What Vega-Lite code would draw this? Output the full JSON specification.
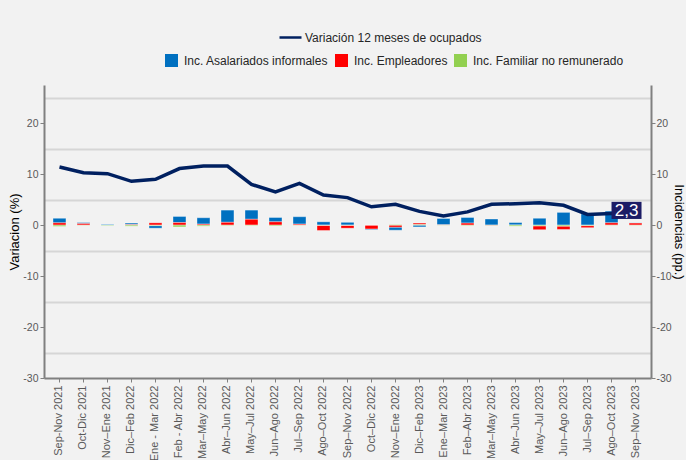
{
  "$schema": "https://vega.github.io/schema/vega-lite/v6.json",
  "autosize": {"type": "none"},
  "padding": {"left": 44, "top": 85, "right": 35, "bottom": 82},
  "width": 607,
  "height": 293,
  "background": "#f2f2f2",
  "config": {
    "font": "Liberation Sans",
    "view": {"stroke": null},
    "locale": {"number": {"decimal": ",", "thousands": ".", "grouping": [3], "currency": ["", ""], "minus": "-"}}
  },
  "datasets": {
    "barras": [
      {"p": "Sep-Nov 2021", "s": "Inc. Asalariados informales", "v": 0.9},
      {"p": "Sep-Nov 2021", "s": "Inc. Empleadores", "v": 0.45},
      {"p": "Sep-Nov 2021", "s": "Inc. Familiar no remunerado", "v": -0.25},
      {"p": "Oct-Dic 2021", "s": "Inc. Asalariados informales", "v": 0.2},
      {"p": "Oct-Dic 2021", "s": "Inc. Empleadores", "v": 0.3},
      {"p": "Oct-Dic 2021", "s": "Inc. Familiar no remunerado", "v": -0.05},
      {"p": "Nov–Ene 2021", "s": "Inc. Asalariados informales", "v": 0.15},
      {"p": "Nov–Ene 2021", "s": "Inc. Empleadores", "v": 0.0},
      {"p": "Nov–Ene 2021", "s": "Inc. Familiar no remunerado", "v": -0.1},
      {"p": "Dic–Feb 2022", "s": "Inc. Asalariados informales", "v": 0.3},
      {"p": "Dic–Feb 2022", "s": "Inc. Empleadores", "v": 0.1},
      {"p": "Dic–Feb 2022", "s": "Inc. Familiar no remunerado", "v": -0.2},
      {"p": "Ene - Mar 2022", "s": "Inc. Asalariados informales", "v": -0.5},
      {"p": "Ene - Mar 2022", "s": "Inc. Empleadores", "v": 0.45},
      {"p": "Ene - Mar 2022", "s": "Inc. Familiar no remunerado", "v": -0.1},
      {"p": "Feb - Abr 2022", "s": "Inc. Asalariados informales", "v": 1.2},
      {"p": "Feb - Abr 2022", "s": "Inc. Empleadores", "v": 0.5},
      {"p": "Feb - Abr 2022", "s": "Inc. Familiar no remunerado", "v": -0.35},
      {"p": "Mar–May 2022", "s": "Inc. Asalariados informales", "v": 1.25},
      {"p": "Mar–May 2022", "s": "Inc. Empleadores", "v": 0.2},
      {"p": "Mar–May 2022", "s": "Inc. Familiar no remunerado", "v": -0.2},
      {"p": "Abr–Jun 2022", "s": "Inc. Asalariados informales", "v": 2.4},
      {"p": "Abr–Jun 2022", "s": "Inc. Empleadores", "v": 0.55},
      {"p": "Abr–Jun 2022", "s": "Inc. Familiar no remunerado", "v": -0.1},
      {"p": "May–Jul 2022", "s": "Inc. Asalariados informales", "v": 1.8},
      {"p": "May–Jul 2022", "s": "Inc. Empleadores", "v": 1.15},
      {"p": "May–Jul 2022", "s": "Inc. Familiar no remunerado", "v": -0.1},
      {"p": "Jun–Ago 2022", "s": "Inc. Asalariados informales", "v": 0.85},
      {"p": "Jun–Ago 2022", "s": "Inc. Empleadores", "v": 0.65},
      {"p": "Jun–Ago 2022", "s": "Inc. Familiar no remunerado", "v": -0.15},
      {"p": "Jul–Sep 2022", "s": "Inc. Asalariados informales", "v": 1.45},
      {"p": "Jul–Sep 2022", "s": "Inc. Empleadores", "v": 0.2},
      {"p": "Jul–Sep 2022", "s": "Inc. Familiar no remunerado", "v": -0.05},
      {"p": "Ago–Oct 2022", "s": "Inc. Asalariados informales", "v": 0.65},
      {"p": "Ago–Oct 2022", "s": "Inc. Empleadores", "v": -1.0},
      {"p": "Ago–Oct 2022", "s": "Inc. Familiar no remunerado", "v": -0.05},
      {"p": "Sep–Nov 2022", "s": "Inc. Asalariados informales", "v": 0.55},
      {"p": "Sep–Nov 2022", "s": "Inc. Empleadores", "v": -0.55},
      {"p": "Sep–Nov 2022", "s": "Inc. Familiar no remunerado", "v": -0.05},
      {"p": "Oct–Dic 2022", "s": "Inc. Asalariados informales", "v": -0.15},
      {"p": "Oct–Dic 2022", "s": "Inc. Empleadores", "v": -0.75},
      {"p": "Oct–Dic 2022", "s": "Inc. Familiar no remunerado", "v": 0.0},
      {"p": "Nov–Ene 2022", "s": "Inc. Asalariados informales", "v": -0.6},
      {"p": "Nov–Ene 2022", "s": "Inc. Empleadores", "v": -0.4},
      {"p": "Nov–Ene 2022", "s": "Inc. Familiar no remunerado", "v": 0.1},
      {"p": "Dic–Feb 2023", "s": "Inc. Asalariados informales", "v": -0.35},
      {"p": "Dic–Feb 2023", "s": "Inc. Empleadores", "v": 0.3},
      {"p": "Dic–Feb 2023", "s": "Inc. Familiar no remunerado", "v": 0.1},
      {"p": "Ene–Mar 2023", "s": "Inc. Asalariados informales", "v": 1.25},
      {"p": "Ene–Mar 2023", "s": "Inc. Empleadores", "v": 0.05},
      {"p": "Ene–Mar 2023", "s": "Inc. Familiar no remunerado", "v": -0.05},
      {"p": "Feb–Abr 2023", "s": "Inc. Asalariados informales", "v": 1.1},
      {"p": "Feb–Abr 2023", "s": "Inc. Empleadores", "v": 0.4},
      {"p": "Feb–Abr 2023", "s": "Inc. Familiar no remunerado", "v": -0.1},
      {"p": "Mar–May 2023", "s": "Inc. Asalariados informales", "v": 1.2},
      {"p": "Mar–May 2023", "s": "Inc. Empleadores", "v": -0.1},
      {"p": "Mar–May 2023", "s": "Inc. Familiar no remunerado", "v": -0.05},
      {"p": "Abr–Jun 2023", "s": "Inc. Asalariados informales", "v": 0.5},
      {"p": "Abr–Jun 2023", "s": "Inc. Empleadores", "v": 0.0},
      {"p": "Abr–Jun 2023", "s": "Inc. Familiar no remunerado", "v": -0.2},
      {"p": "May–Jul 2023", "s": "Inc. Asalariados informales", "v": 1.35},
      {"p": "May–Jul 2023", "s": "Inc. Empleadores", "v": -0.75},
      {"p": "May–Jul 2023", "s": "Inc. Familiar no remunerado", "v": -0.15},
      {"p": "Jun–Ago 2023", "s": "Inc. Asalariados informales", "v": 2.5},
      {"p": "Jun–Ago 2023", "s": "Inc. Empleadores", "v": -0.65},
      {"p": "Jun–Ago 2023", "s": "Inc. Familiar no remunerado", "v": -0.2},
      {"p": "Jul–Sep 2023", "s": "Inc. Asalariados informales", "v": 2.2},
      {"p": "Jul–Sep 2023", "s": "Inc. Empleadores", "v": -0.4},
      {"p": "Jul–Sep 2023", "s": "Inc. Familiar no remunerado", "v": -0.1},
      {"p": "Ago–Oct 2023", "s": "Inc. Asalariados informales", "v": 2.3},
      {"p": "Ago–Oct 2023", "s": "Inc. Empleadores", "v": 0.45},
      {"p": "Ago–Oct 2023", "s": "Inc. Familiar no remunerado", "v": -0.05},
      {"p": "Sep–Nov 2023", "s": "Inc. Asalariados informales", "v": 0.05},
      {"p": "Sep–Nov 2023", "s": "Inc. Empleadores", "v": 0.4},
      {"p": "Sep–Nov 2023", "s": "Inc. Familiar no remunerado", "v": -0.05}
    ],
    "ocupados": [
      {"p": "Sep-Nov 2021", "v": 11.4},
      {"p": "Oct-Dic 2021", "v": 10.3},
      {"p": "Nov–Ene 2021", "v": 10.1},
      {"p": "Dic–Feb 2022", "v": 8.6},
      {"p": "Ene - Mar 2022", "v": 9.0},
      {"p": "Feb - Abr 2022", "v": 11.1},
      {"p": "Mar–May 2022", "v": 11.6},
      {"p": "Abr–Jun 2022", "v": 11.6},
      {"p": "May–Jul 2022", "v": 8.0},
      {"p": "Jun–Ago 2022", "v": 6.5},
      {"p": "Jul–Sep 2022", "v": 8.2},
      {"p": "Ago–Oct 2022", "v": 5.9},
      {"p": "Sep–Nov 2022", "v": 5.4},
      {"p": "Oct–Dic 2022", "v": 3.6},
      {"p": "Nov–Ene 2022", "v": 4.1},
      {"p": "Dic–Feb 2023", "v": 2.7},
      {"p": "Ene–Mar 2023", "v": 1.8},
      {"p": "Feb–Abr 2023", "v": 2.6},
      {"p": "Mar–May 2023", "v": 4.1},
      {"p": "Abr–Jun 2023", "v": 4.2},
      {"p": "May–Jul 2023", "v": 4.4},
      {"p": "Jun–Ago 2023", "v": 3.9},
      {"p": "Jul–Sep 2023", "v": 2.1},
      {"p": "Ago–Oct 2023", "v": 2.3},
      {"p": "Sep–Nov 2023", "v": 2.3}
    ]
  },
  "resolve": {"axis": {"y": "independent"}},
  "layer": [
    {
      "data": {"name": "barras"},
      "mark": {"type": "bar", "stroke": "#ffffff", "strokeOpacity": 0.35, "strokeWidth": 1},
      "encoding": {
        "x": {
          "field": "p", "type": "nominal", "sort": null,
          "scale": {"paddingInner": 0.46, "paddingOuter": 0.375},
          "axis": {
            "title": null, "labelAngle": -90, "labelFontSize": 11, "labelColor": "#595959",
            "labelPadding": 3, "domainColor": "#808080", "domainWidth": 2,
            "tickColor": "#808080", "tickSize": 4, "tickWidth": 1
          }
        },
        "y": {
          "field": "v", "type": "quantitative",
          "scale": {"domain": [-30, 27.5], "nice": false, "zero": false},
          "axis": {
            "orient": "left",
            "values": [-30, -25, -20, -15, -10, -5, 0, 5, 10, 15, 20, 25],
            "labelExpr": "datum.value % 10 == 0 ? datum.label : ''",
            "grid": true, "gridColor": "#d6d6d6", "gridWidth": 2,
            "gridOpacity": {"condition": {"test": "datum.value % 10 != 0", "value": 1}, "value": 0},
            "tickOpacity": {"condition": {"test": "datum.value % 10 == 0", "value": 1}, "value": 0},
            "tickColor": "#808080", "tickSize": 4,
            "domainColor": "#808080", "domainWidth": 2,
            "labelFontSize": 10.5, "labelColor": "#595959", "labelPadding": 2,
            "title": "Variacion (%)", "titleFontSize": 13, "titleFontWeight": "normal",
            "titleColor": "#000000", "titlePadding": 1
          }
        },
        "fill": {
          "field": "s", "type": "nominal",
          "scale": {
            "domain": ["Inc. Asalariados informales", "Inc. Empleadores", "Inc. Familiar no remunerado"],
            "range": ["#0070c0", "#ff0000", "#92d050"]
          },
          "legend": {
            "orient": "none", "legendX": 121, "legendY": -31, "direction": "horizontal",
            "title": null, "symbolType": "square", "symbolSize": 169, "symbolStrokeWidth": 0,
            "labelFontSize": 12, "labelColor": "#262626", "columnPadding": 6, "labelOffset": 6,
            "labelLimit": 300
          }
        },
        "order": {"field": "s", "sort": "descending"}
      }
    },
    {
      "data": {"name": "ocupados"},
      "mark": {"type": "line", "strokeWidth": 3.5},
      "encoding": {
        "x": {"field": "p", "type": "nominal", "sort": null},
        "y": {
          "field": "v", "type": "quantitative",
          "axis": {
            "orient": "right",
            "values": [-30, -20, -10, 0, 10, 20],
            "grid": false,
            "tickColor": "#808080", "tickSize": 4,
            "domainColor": "#808080", "domainWidth": 2,
            "labelFontSize": 10.5, "labelColor": "#595959", "labelPadding": 1,
            "title": "Incidencias (pp.)", "titleFontSize": 13, "titleFontWeight": "normal",
            "titleColor": "#000000", "titlePadding": 0
          }
        },
        "stroke": {
          "datum": "Variación 12 meses de ocupados", "type": "nominal",
          "scale": {"range": ["#002060"]},
          "legend": {
            "orient": "none", "legendX": 234, "legendY": -60, "title": null,
            "symbolType": "stroke", "symbolSize": 484, "symbolStrokeWidth": 2.5,
            "labelFontSize": 12, "labelColor": "#262626", "labelOffset": 2,
            "labelLimit": 300
          }
        }
      }
    },
    {
      "data": {"name": "ocupados"},
      "transform": [{"filter": "datum.p == 'Sep–Nov 2023'"}],
      "mark": {
        "type": "point", "shape": "M-1,-0.57H1V0.57H-1Z", "size": 900,
        "filled": true, "fill": "#1c1c66", "opacity": 1, "strokeWidth": 0,
        "xOffset": -9, "yOffset": -3
      },
      "encoding": {
        "x": {"field": "p", "type": "nominal", "sort": null},
        "y": {"field": "v", "type": "quantitative", "axis": null}
      }
    },
    {
      "data": {"name": "ocupados"},
      "transform": [{"filter": "datum.p == 'Sep–Nov 2023'"}],
      "mark": {
        "type": "text", "color": "#ffffff", "fontSize": 17, "align": "center",
        "baseline": "middle", "dx": -9, "dy": -2
      },
      "encoding": {
        "x": {"field": "p", "type": "nominal", "sort": null},
        "y": {"field": "v", "type": "quantitative", "axis": null},
        "text": {"field": "v", "type": "quantitative", "format": ".1f"}
      }
    }
  ]
}
